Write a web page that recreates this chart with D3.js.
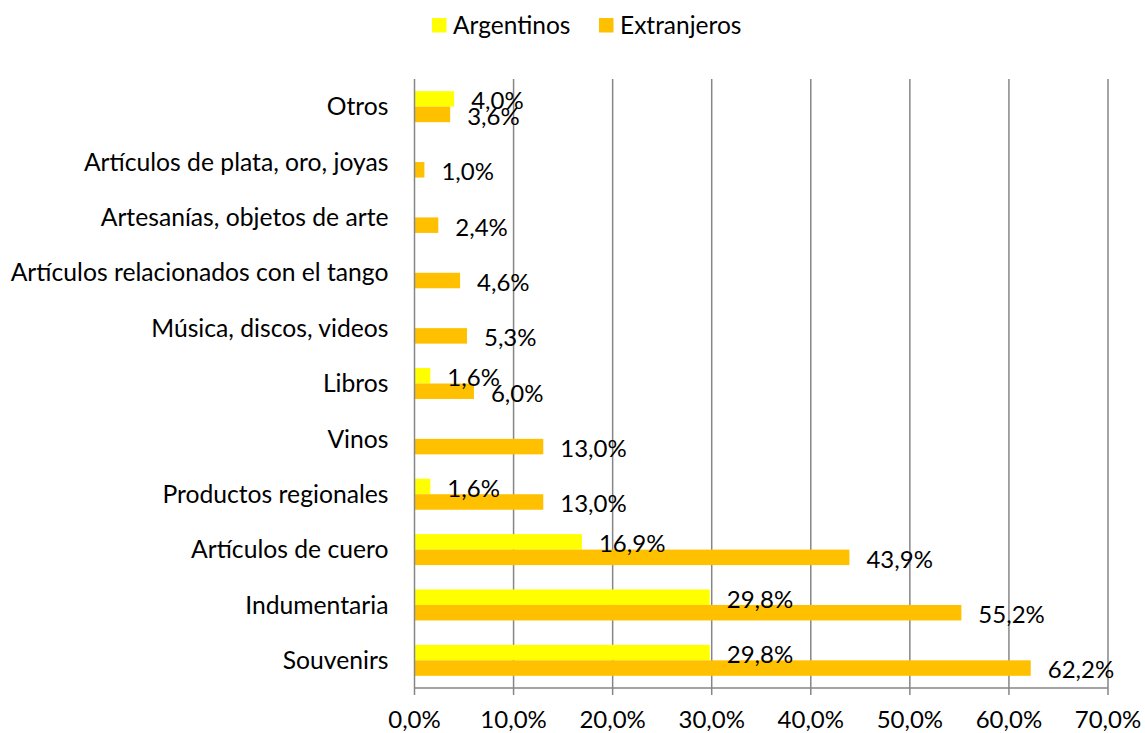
<!DOCTYPE html>
<html>
<head>
<meta charset="utf-8">
<script src="https://cdn.jsdelivr.net/npm/d3@7"></script>
<style>
  body { margin: 0; background: #fff; }
  text { font-family: Lato, "Open Sans", sans-serif; fill: #000; }
</style>
</head>
<body>
<div id="chart"></div>
<script>
const categories = ['Otros', 'Artículos de plata, oro, joyas', 'Artesanías, objetos de arte',
  'Artículos relacionados con el tango', 'Música, discos, videos', 'Libros', 'Vinos',
  'Productos regionales', 'Artículos de cuero', 'Indumentaria', 'Souvenirs']
const argentinos = [4.0, 0, 0, 0, 0, 1.6, 0, 1.6, 16.9, 29.8, 29.8]
const extranjeros = [3.6, 1.0, 2.4, 4.6, 5.3, 6.0, 13.0, 13.0, 43.9, 55.2, 62.2]
const seriesNames = ['Argentinos', 'Extranjeros']
const xTicks = [0, 10, 20, 30, 40, 50, 60, 70]

const colors = ['#FFFF00', '#FFC000']
const W = 1145, H = 733
const margin = { top: 79, right: 37, bottom: 45, left: 414.5 }
const width = W - margin.left - margin.right
const height = H - margin.top - margin.bottom
const fmt = v => v.toFixed(1).replace('.', ',') + '%'
const fs = '24px'

const svg = d3.select('#chart').append('svg')
  .attr('width', W)
  .attr('height', H)

const g = svg.append('g').attr('transform', `translate(${margin.left},${margin.top})`)

const x = d3.scaleLinear().domain([0, 70]).range([0, width])
const y = d3.scaleBand().domain(categories).range([0, height]).paddingInner(0.44).paddingOuter(0.22)
const ySub = d3.scaleBand().domain(seriesNames).range([0, y.bandwidth()])

// gridlines
g.selectAll('.grid')
  .data(xTicks.slice(1))
  .enter()
  .append('line')
  .attr('x1', d => x(d)).attr('x2', d => x(d))
  .attr('y1', 0).attr('y2', height + 7)
  .style('stroke', '#868686')
  .style('stroke-width', 1.5)

// bars
const rows = categories.map((c, i) => ({ c, vals: [argentinos[i], extranjeros[i]] }))
const grp = g.selectAll('.cat')
  .data(rows)
  .enter()
  .append('g')
  .attr('transform', d => `translate(0,${y(d.c)})`)

grp.selectAll('rect')
  .data(d => d.vals.map((v, j) => ({ v, s: seriesNames[j], j })))
  .enter()
  .append('rect')
  .attr('x', 0)
  .attr('y', d => ySub(d.s))
  .attr('width', d => x(d.v))
  .attr('height', ySub.bandwidth())
  .attr('fill', d => colors[d.j])

grp.selectAll('.lbl')
  .data(d => d.vals.map((v, j) => ({ v, s: seriesNames[j], j })).filter(d => d.v > 0))
  .enter()
  .append('text')
  .attr('x', d => x(d.v) + 17)
  .attr('y', d => ySub(d.s) + ySub.bandwidth() / 2 + 2)
  .attr('dy', '0.35em')
  .style('font-size', fs)
  .text(d => fmt(d.v))

// axes
g.append('line')
  .attr('x1', 0).attr('x2', 0).attr('y1', 0).attr('y2', height + 7)
  .style('stroke', '#868686').style('stroke-width', 1.5)
g.append('line')
  .attr('x1', 0).attr('x2', width).attr('y1', height).attr('y2', height)
  .style('stroke', '#868686').style('stroke-width', 1.5)

g.selectAll('.xt')
  .data(xTicks)
  .enter()
  .append('text')
  .attr('x', d => x(d))
  .attr('y', height + 32)
  .attr('dy', '0.35em')
  .attr('text-anchor', 'middle')
  .style('font-size', fs)
  .text(d => fmt(d))

g.selectAll('.yt')
  .data(categories)
  .enter()
  .append('text')
  .attr('x', -26)
  .attr('y', d => y(d) + y.bandwidth() / 2)
  .attr('dy', '0.35em')
  .attr('text-anchor', 'end')
  .style('font-size', '24.7px')
  .text(d => d)

// legend
const legX = [432, 599]
const leg = svg.selectAll('.leg')
  .data(seriesNames)
  .enter()
  .append('g')
  .attr('transform', (d, i) => `translate(${legX[i]},18)`)
leg.append('rect')
  .attr('width', 14.5).attr('height', 14.5)
  .attr('fill', (d, i) => colors[i])
leg.append('text')
  .attr('x', 21).attr('y', 7.5).attr('dy', '0.35em')
  .style('font-size', '24.5px')
  .text(d => d)
</script>
</body>
</html>
